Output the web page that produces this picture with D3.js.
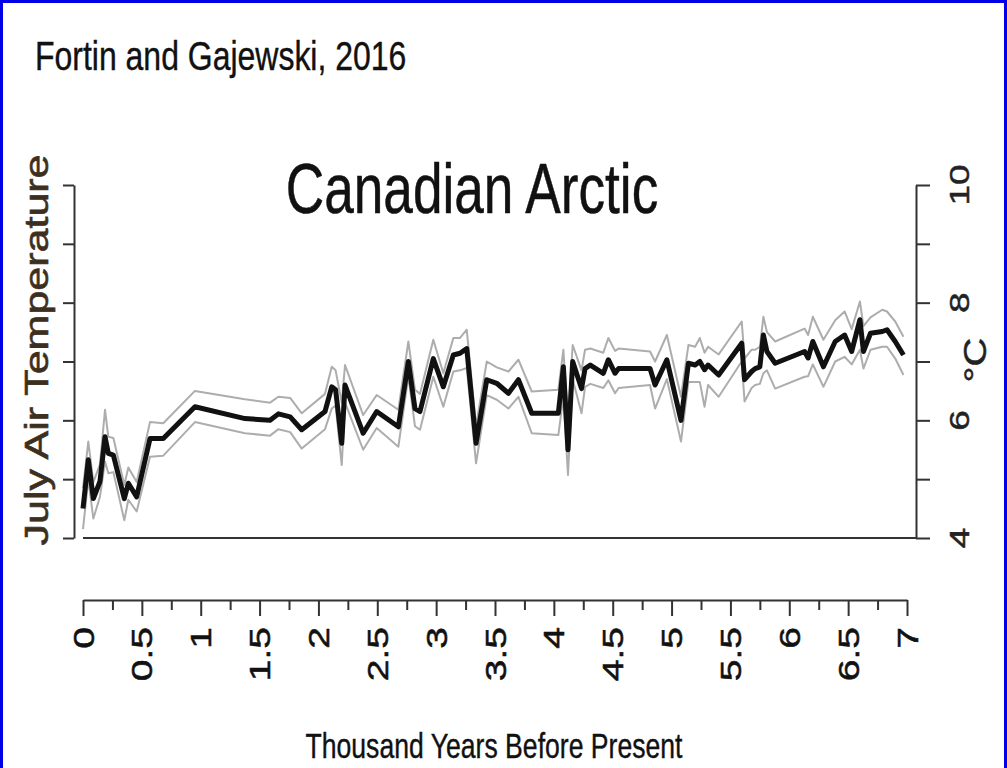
<!DOCTYPE html>
<html>
<head>
<meta charset="utf-8">
<script src="https://cdn.jsdelivr.net/npm/d3@7"></script>
<style>
  body { margin: 0; background: #fff; }
  text { font-family: "Liberation Sans", Arial, sans-serif; }
</style>
</head>
<body>
<script>
const width = 1007;
const height = 768;

// reconstruction (thousand years BP, July air temperature in degC)
const ages = [0.00, 0.045, 0.088, 0.144, 0.187, 0.215, 0.258, 0.351, 0.385, 0.456,
  0.569, 0.682, 0.951, 1.376, 1.589, 1.660, 1.760, 1.858, 2.056, 2.113,
  2.146, 2.198, 2.226, 2.380, 2.495, 2.679, 2.764, 2.820, 2.863, 2.976,
  3.061, 3.146, 3.203, 3.260, 3.339, 3.430, 3.515, 3.614, 3.699, 3.812,
  4.038, 4.081, 4.120, 4.160, 4.235, 4.265, 4.310, 4.420, 4.463, 4.520,
  4.550, 4.817, 4.860, 4.960, 5.080, 5.143, 5.200, 5.240, 5.280, 5.310,
  5.400, 5.596, 5.620, 5.680, 5.710, 5.750, 5.780, 5.810, 5.880, 6.130,
  6.160, 6.200, 6.290, 6.390, 6.470, 6.530, 6.600, 6.630, 6.690, 6.790,
  6.830, 6.900, 6.970];

const meanTemp = [4.50, 5.33, 4.67, 4.96, 5.72, 5.44, 5.41, 4.67, 4.93, 4.70,
  5.69, 5.69, 6.23, 6.03, 6.00, 6.11, 6.06, 5.84, 6.15, 6.57,
  6.52, 5.61, 6.60, 5.78, 6.15, 5.89, 7.00, 6.20, 6.15, 7.05,
  6.57, 7.11, 7.14, 7.22, 5.61, 6.69, 6.63, 6.46, 6.69, 6.12,
  6.12, 6.91, 5.50, 7.00, 6.54, 6.88, 6.94, 6.80, 7.03, 6.80,
  6.88, 6.88, 6.60, 7.03, 6.00, 6.97, 6.94, 7.00, 6.86, 6.94,
  6.77, 7.31, 6.69, 6.83, 6.88, 6.91, 7.45, 7.17, 6.97, 7.17,
  7.06, 7.34, 6.91, 7.34, 7.45, 7.17, 7.71, 7.17, 7.48, 7.51,
  7.54, 7.34, 7.11];

const upperTemp = [4.85, 5.64, 4.95, 5.25, 6.18, 5.72, 5.70, 4.90, 5.20, 4.95,
  5.97, 5.95, 6.50, 6.36, 6.30, 6.40, 6.38, 6.12, 6.45, 6.91,
  6.85, 6.30, 6.94, 6.09, 6.43, 6.18, 7.34, 6.52, 6.45, 7.37,
  6.80, 7.40, 7.40, 7.54, 5.90, 7.00, 6.90, 6.83, 7.03, 6.49,
  6.52, 7.20, 6.00, 7.28, 6.85, 7.20, 7.22, 7.15, 7.40, 7.18,
  7.22, 7.17, 7.00, 7.45, 6.40, 7.28, 7.25, 7.40, 7.15, 7.25,
  7.12, 7.68, 7.05, 7.20, 7.20, 7.25, 7.76, 7.50, 7.34, 7.56,
  7.45, 7.76, 7.37, 7.70, 7.85, 7.55, 8.02, 7.60, 7.75, 7.88,
  7.85, 7.68, 7.42];

const lowerTemp = [4.15, 5.00, 4.33, 4.70, 5.30, 5.10, 5.12, 4.30, 4.65, 4.45,
  5.38, 5.40, 5.97, 5.78, 5.74, 5.85, 5.80, 5.52, 5.85, 6.20,
  6.25, 5.24, 6.30, 5.50, 5.87, 5.55, 6.75, 5.90, 5.84, 6.74,
  6.23, 6.83, 6.85, 6.89, 5.27, 6.43, 6.35, 6.20, 6.40, 5.78,
  5.75, 6.40, 5.07, 6.70, 6.12, 6.57, 6.62, 6.55, 6.68, 6.46,
  6.55, 6.60, 6.20, 6.70, 5.64, 6.65, 6.65, 6.65, 6.23, 6.60,
  6.40, 7.00, 6.32, 6.55, 6.60, 6.62, 6.80, 6.85, 6.54, 6.74,
  6.75, 6.95, 6.57, 7.00, 7.08, 6.95, 7.20, 6.88, 7.20, 7.25,
  7.25, 7.05, 6.77];

const xTicks = [0, 0.25, 0.5, 0.75, 1, 1.25, 1.5, 1.75, 2, 2.25, 2.5, 2.75, 3, 3.25, 3.5,
  3.75, 4, 4.25, 4.5, 4.75, 5, 5.25, 5.5, 5.75, 6, 6.25, 6.5, 6.75, 7];
const xTickLabels = ["0", "0.5", "1", "1.5", "2", "2.5", "3", "3.5", "4", "4.5", "5", "5.5", "6", "6.5", "7"];
const yTicks = [4, 5, 6, 7, 8, 9, 10];
const yTickLabels = ["4", "6", "8", "10"];

const sx = 0.77;   // the picture is squeezed sideways

const svg = d3.select('body').append('svg')
    .attr('width', width)
    .attr('height', height);

svg.append('rect')
    .attr('x', 1.5).attr('y', 1.5)
    .attr('width', width - 3).attr('height', height + 20)
    .attr('fill', '#fff')
    .attr('stroke', '#0000e6')
    .attr('stroke-width', 3);

const x = d3.scaleLinear().domain([0, 7]).range([83, 907]);
const y = d3.scaleLinear().domain([4, 10]).range([538, 185]);

// left axis, no labels
const leftAxis = svg.append('g')
    .attr('transform', 'translate(74,0)')
    .call(d3.axisLeft(y).tickValues(yTicks).tickSize(11).tickSizeOuter(0).tickFormat(''));

// right axis
const rightAxis = svg.append('g')
    .attr('transform', 'translate(916,0)')
    .call(d3.axisRight(y).tickValues(yTicks).tickSize(14).tickSizeOuter(0).tickFormat(''));

[leftAxis, rightAxis].forEach(function(g) {
    g.selectAll('path, line').attr('stroke', '#333').attr('stroke-width', 2);
});

svg.append('line')
    .attr('x1', x(0)).attr('x2', 916)
    .attr('y1', y(4)).attr('y2', y(4))
    .attr('stroke', '#333').attr('stroke-width', 2);

svg.append('g').selectAll('text')
    .data(yTickLabels)
    .enter().append('text')
    .attr('transform', d => `translate(969,${y(+d)}) scale(${sx},1) rotate(-90)`)
    .attr('text-anchor', 'middle')
    .attr('font-size', 37)
    .attr('fill', '#222').attr('stroke', '#222').attr('stroke-width', 0.6)
    .text(d => d);

// bottom axis
const bottomAxis = svg.append('g')
    .attr('transform', 'translate(0,600)')
    .call(d3.axisBottom(x).tickValues(xTicks).tickSize(14).tickSizeOuter(0).tickFormat(''));
bottomAxis.selectAll('path, line').attr('stroke', '#333').attr('stroke-width', 2);
bottomAxis.selectAll('.tick line').attr('y2', (d, i) => i % 2 === 0 ? 16 : 10);

svg.append('g').selectAll('text')
    .data(xTickLabels)
    .enter().append('text')
    .attr('transform', d => `translate(${x(+d)},627) scale(${sx},1) rotate(-90)`)
    .attr('text-anchor', 'end')
    .attr('dy', '0.35em')
    .attr('font-size', 39)
    .attr('fill', '#111').attr('stroke', '#111').attr('stroke-width', 0.7)
    .text(d => d);

// lines
const rows = ages.map((a, i) => ({age: a, mean: meanTemp[i], upper: upperTemp[i], lower: lowerTemp[i]}));

const line = key => d3.line()
    .x(d => x(d.age))
    .y(d => y(d[key]));

['upper', 'lower'].forEach(function(k) {
    svg.append('path')
        .datum(rows)
        .attr('fill', 'none')
        .attr('stroke', '#adadad')
        .attr('stroke-width', 2)
        .attr('stroke-linejoin', 'round')
        .attr('d', line(k));
});

svg.append('path')
    .datum(rows)
    .attr('fill', 'none')
    .attr('stroke', '#111')
    .attr('stroke-width', 5)
    .attr('stroke-linejoin', 'round')
    .attr('d', line('mean'));

// texts
svg.append('text')
    .attr('transform', `translate(35,70) scale(0.78,1)`)
    .attr('font-size', 41)
    .attr('fill', '#111').attr('stroke', '#111').attr('stroke-width', 0.4)
    .text('Fortin and Gajewski, 2016');

svg.append('text')
    .attr('transform', `translate(472,213) scale(0.76,1)`)
    .attr('text-anchor', 'middle')
    .attr('font-size', 70)
    .attr('fill', '#111').attr('stroke', '#111').attr('stroke-width', 0.5)
    .text('Canadian Arctic');

svg.append('text')
    .attr('transform', `translate(494,758) scale(0.76,1)`)
    .attr('text-anchor', 'middle')
    .attr('font-size', 35)
    .attr('fill', '#111').attr('stroke', '#111').attr('stroke-width', 0.4)
    .text('Thousand Years Before Present');

svg.append('text')
    .attr('transform', `translate(48,350) scale(${sx},1) rotate(-90)`)
    .attr('text-anchor', 'middle')
    .attr('font-size', 43)
    .attr('fill', '#3d2f20').attr('stroke', '#3d2f20').attr('stroke-width', 0.8)
    .text('July Air Temperature');

svg.append('text')
    .attr('transform', `translate(986,360) scale(${sx},1) rotate(-90)`)
    .attr('text-anchor', 'middle')
    .attr('font-size', 40)
    .attr('fill', '#222').attr('stroke', '#222').attr('stroke-width', 0.6)
    .text('°C');
</script>
</body>
</html>
